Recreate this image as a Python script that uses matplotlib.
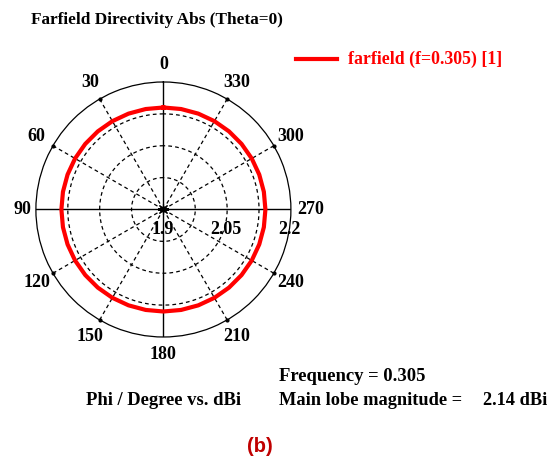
import numpy as np
import matplotlib
matplotlib.use("Agg")
import matplotlib.pyplot as plt

# data (read every 10 degrees)
phi_deg = [0, 10, 20, 30, 40, 50, 60, 70, 80, 90, 100, 110, 120, 130, 140, 150, 160, 170,
           180, 190, 200, 210, 220, 230, 240, 250, 260, 270, 280, 290, 300, 310, 320, 330,
           340, 350, 360]
directivity_dbi = [2.14] * 37
angle_ticks = [0, 30, 60, 90, 120, 150, 180, 210, 240, 270, 300, 330]
r_min, r_max = 1.9, 2.2
r_rings = [1.975, 2.05, 2.125]
r_labels = [1.9, 2.05, 2.2]
r_label_text = ["1.9", "2.05", "2.2"]

serif = ["Liberation Serif", "DejaVu Serif"]

fig = plt.figure(figsize=(5.5, 4.57), dpi=100)
ax = fig.add_axes([0.0636, 0.2626, 0.467, 0.558], projection="polar")
ax.set_theta_zero_location("N")
ax.set_theta_direction(1)
ax.set_ylim(r_min, r_max)
ax.grid(False)
ax.set_xticks([])
ax.set_yticks([])
ax.spines["polar"].set_linewidth(0.9)
ax.spines["polar"].set_color("black")

# dashed rings
th = np.linspace(0, 2 * np.pi, 361)
for rr in r_rings:
    ax.plot(th, np.full_like(th, rr), ls=(0, (3, 2.5)), color="black", lw=0.9)
# spokes + angle labels
for a in angle_ticks:
    t = np.deg2rad(a)
    if a % 90 == 0:
        ax.plot([t, t], [r_min, r_max], color="black", lw=1.0)
    else:
        ax.plot([t, t], [r_min, r_max], ls=(0, (3, 2.5)), color="black", lw=0.9)
        ax.plot([t], [r_max], marker="o", ms=2, color="black", clip_on=False)
    dx, dy = -np.sin(t), np.cos(t)
    ha, va, d = "center", "center", 19
    if a == 90:
        ha, d = "right", 5
    elif a == 270:
        ha, d = "left", 6
    elif a == 0:
        d = 17
    elif a == 180:
        d = 18
    ax.annotate(str(a), xy=(t, r_max), xytext=(dx * d, dy * d), textcoords="offset pixels",
                ha=ha, va=va, fontsize=13, fontweight="bold", family=serif)

# data curve
ax.plot(np.deg2rad(np.array(phi_deg, dtype=float)), directivity_dbi, color="#ff0000", lw=3)

# center marker
ax.plot([0], [r_min], marker=(8, 2, 0), color="black", ms=8, mew=0.8)

# radial labels
for rv, lab in zip(r_labels, r_label_text):
    ax.annotate(lab, xy=(np.deg2rad(270), rv), xytext=(-1, -20), textcoords="offset pixels",
                ha="center", va="center", fontsize=13, fontweight="bold", family=serif)

# title
fig.text(0.057, 0.956, "Farfield Directivity Abs (Theta=0)", fontsize=12.4,
         fontweight="bold", family=serif, va="center", ha="left")

# legend
fig.lines.append(plt.Line2D([0.538, 0.612], [0.871, 0.871], color="#ff0000", lw=3,
                            transform=fig.transFigure))
fig.text(0.632, 0.871, "farfield (f=0.305) [1]", fontsize=12.8, fontweight="bold",
         family=serif, color="#ff0000", va="center", ha="left")

# bottom annotations
fig.text(0.507, 0.177, "Frequency = 0.305", fontsize=13.4, fontweight="bold",
         family=serif, va="center", ha="left")
fig.text(0.156, 0.124, "Phi / Degree vs. dBi", fontsize=13.4, fontweight="bold",
         family=serif, va="center", ha="left")
fig.text(0.507, 0.124, "Main lobe magnitude =", fontsize=13.2, fontweight="bold",
         family=serif, va="center", ha="left")
fig.text(0.995, 0.124, "2.14 dBi", fontsize=13.2, fontweight="bold",
         family=serif, va="center", ha="right")
fig.text(0.473, 0.022, "(b)", fontsize=14.5, fontweight="bold",
         family=["Liberation Sans", "DejaVu Sans"], color="#c00000", va="center", ha="center")

fig.savefig("out.png", dpi=100)
